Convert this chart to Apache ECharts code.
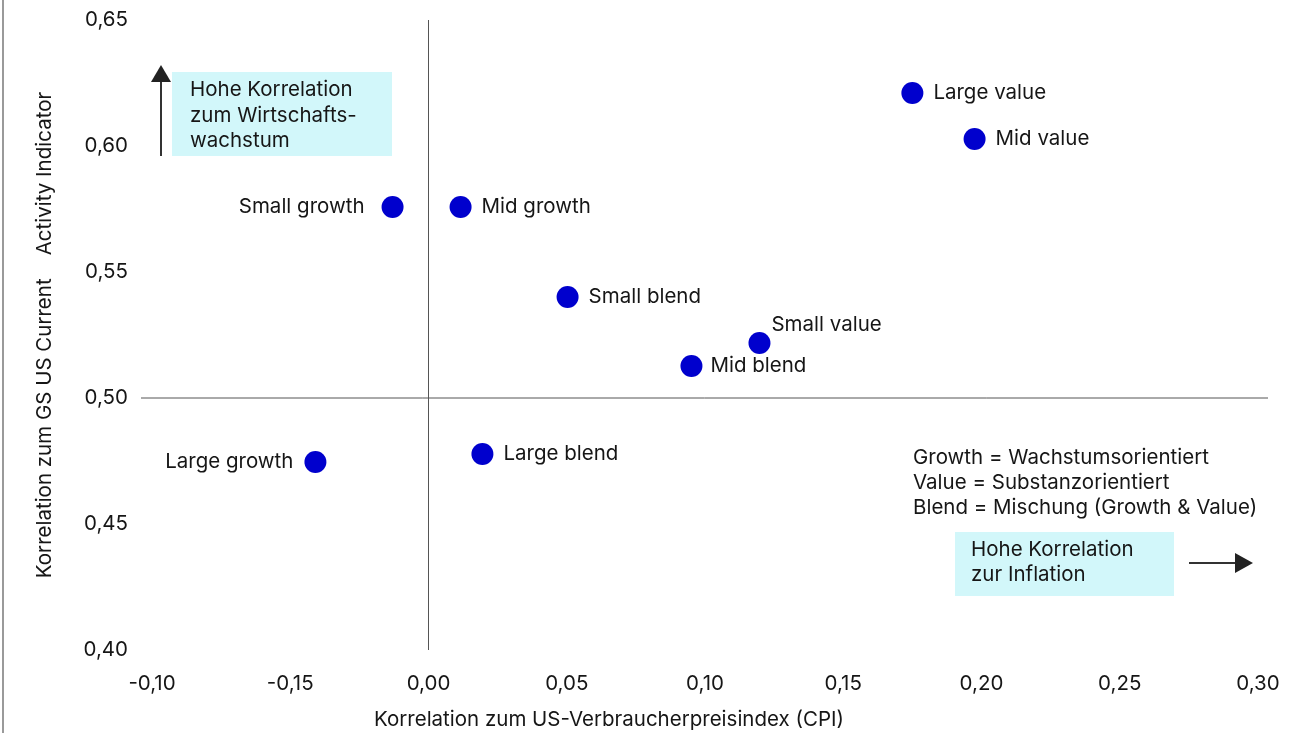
<!DOCTYPE html>
<html>
<head>
<meta charset="utf-8">
<script src="https://cdn.jsdelivr.net/npm/echarts@6/dist/echarts.min.js"></script>
<style>
  html, body { margin: 0; padding: 0; background: #fff; }
  #chart { width: 1306px; height: 733px; }
</style>
</head>
<body>
<div id="chart"></div>
<script>
// Style segments (size/value) with their correlations to CPI (x) and to the GS US Current Activity Indicator (y)
const segments = ['Large value', 'Mid value', 'Small growth', 'Mid growth', 'Small blend', 'Small value', 'Mid blend', 'Large growth', 'Large blend'];
const cpiCorrelation = [0.175, 0.1975, -0.013, 0.0116, 0.0503, 0.1197, 0.0951, -0.0409, 0.0195];
const activityCorrelation = [0.621, 0.6028, 0.5758, 0.5758, 0.5401, 0.5218, 0.5127, 0.4746, 0.4778];

const xTickLabels = ['-0,10', '-0,15', '0,00', '0,05', '0,10', '0,15', '0,20', '0,25', '0,30'];
const yTickLabels = ['0,40', '0,45', '0,50', '0,55', '0,60', '0,65'];

const xName = 'Korrelation zum US-Verbraucherpreisindex (CPI)';
const yName = 'Korrelation zum GS US Current    Activity Indicator';
const growthNote = 'Hohe Korrelation\nzum Wirtschafts-\nwachstum';
const inflationNote = 'Hohe Korrelation\nzur Inflation';
const glossary = 'Growth = Wachstumsorientiert\nValue = Substanzorientiert\nBlend = Mischung (Growth & Value)';

const FONT = 'Inter, "Noto Sans", sans-serif';
const TEXT = '#161616';
const FS = 20.5;

// label placement per segment
const labelLayout = {
  'Small growth': { position: 'left', distance: 17 },
  'Large growth': { position: 'left', distance: 11 },
  'Small value': { position: 'right', distance: 10, offset: [-9, -18] },
  'Mid blend': { position: 'right', distance: 8 }
};

const points = segments.map((name, i) => {
  const lay = labelLayout[name] || { position: 'right', distance: 10 };
  return {
    name: name,
    value: [cpiCorrelation[i], activityCorrelation[i]],
    label: Object.assign({ show: true }, lay)
  };
});

const xMin = -0.1, xMax = 0.3, xStep = 0.05;
const yMin = 0.4, yMax = 0.65, yStep = 0.05;

const chart = echarts.init(document.getElementById('chart'), null, { renderer: 'canvas' });

chart.setOption({
  backgroundColor: '#ffffff',
  animation: false,
  textStyle: { fontFamily: FONT },
  grid: { left: 152, right: 48, top: 20, bottom: 83, containLabel: false, outerBoundsMode: 'none' },
  xAxis: {
    type: 'value',
    min: xMin, max: xMax, interval: xStep,
    axisLine: { show: false },
    axisTick: { show: false },
    splitLine: { show: false },
    axisLabel: {
      margin: 23,
      fontSize: FS,
      color: TEXT,
      fontFamily: FONT,
      formatter: v => xTickLabels[Math.round((v - xMin) / xStep)]
    },
    name: xName,
    nameLocation: 'middle',
    nameGap: 59,
    nameTextStyle: { fontSize: FS, color: TEXT, fontFamily: FONT, padding: [0, 192, 0, 0] }
  },
  yAxis: {
    type: 'value',
    min: yMin, max: yMax, interval: yStep,
    axisLine: { show: false },
    axisTick: { show: false },
    splitLine: { show: false },
    axisLabel: {
      margin: 24,
      fontSize: FS,
      color: TEXT,
      fontFamily: FONT,
      formatter: v => yTickLabels[Math.round((v - yMin) / yStep)]
    },
    name: yName,
    nameLocation: 'middle',
    nameGap: 97,
    nameTextStyle: { fontSize: FS, color: TEXT, fontFamily: FONT }
  },
  series: [{
    type: 'scatter',
    symbol: 'circle',
    symbolSize: 22,
    z: 5,
    itemStyle: { color: '#0000cd', opacity: 1 },
    label: {
      formatter: '{b}',
      fontSize: FS,
      color: TEXT,
      fontFamily: FONT
    },
    data: points
  }]
});

// Quadrant lines and notes, placed through the chart's coordinate system
const toPx = (x, y) => chart.convertToPixel({ gridIndex: 0 }, [x, y]);
const leftTop = toPx(xMin, yMax);
const rightBottom = toPx(xMax, yMin);
const zeroX = toPx(0, yMin)[0];
const midY = toPx(xMin, 0.5)[1];

chart.setOption({
  graphic: [
    // page frame line at the left edge
    { type: 'line', shape: { x1: 3, y1: 0, x2: 3, y2: 733 }, style: { stroke: '#9a9a9a', lineWidth: 2 }, z: 1 },
    // quadrant dividers
    { type: 'line', shape: { x1: zeroX, y1: leftTop[1], x2: zeroX, y2: rightBottom[1] }, style: { stroke: '#555', lineWidth: 1 }, z: 1 },
    { type: 'line', shape: { x1: leftTop[0] - 11, y1: midY, x2: rightBottom[0] + 10, y2: midY }, style: { stroke: '#555', lineWidth: 1 }, z: 1 },

    // growth note with upward arrow
    { type: 'rect', shape: { x: 172, y: 72, width: 220, height: 84 }, style: { fill: '#d2f7fa' }, z: 1 },
    { type: 'text', style: { text: growthNote, x: 190, y: 77.5, fontSize: FS, lineHeight: 25.5, fontFamily: FONT, fill: TEXT, verticalAlign: 'top' }, z: 2 },
    { type: 'line', shape: { x1: 161, y1: 156, x2: 161, y2: 80 }, style: { stroke: '#333', lineWidth: 2 }, z: 2 },
    { type: 'polygon', shape: { points: [[151, 82], [171, 82], [161, 65]] }, style: { fill: '#222' }, z: 2 },

    // glossary
    { type: 'text', style: { text: glossary, x: 913, y: 445.5, fontSize: FS, lineHeight: 25, fontFamily: FONT, fill: TEXT, verticalAlign: 'top' }, z: 2 },

    // inflation note with rightward arrow
    { type: 'rect', shape: { x: 955, y: 532, width: 219, height: 64 }, style: { fill: '#d2f7fa' }, z: 1 },
    { type: 'text', style: { text: inflationNote, x: 971, y: 537.5, fontSize: FS, lineHeight: 25, fontFamily: FONT, fill: TEXT, verticalAlign: 'top' }, z: 2 },
    { type: 'line', shape: { x1: 1189, y1: 563, x2: 1238, y2: 563 }, style: { stroke: '#333', lineWidth: 2 }, z: 2 },
    { type: 'polygon', shape: { points: [[1235, 553], [1235, 573], [1253, 563]] }, style: { fill: '#222' }, z: 2 }
  ]
});
</script>
</body>
</html>
